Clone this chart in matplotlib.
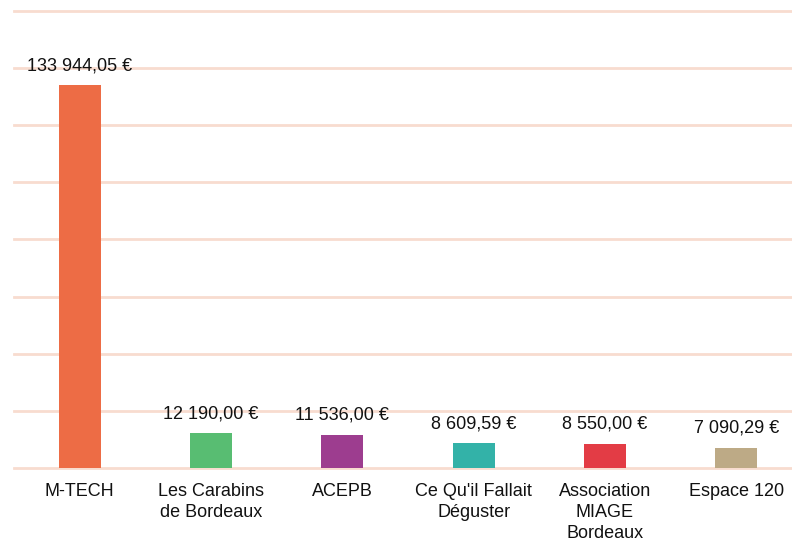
import matplotlib.pyplot as plt

plt.rcParams['font.family'] = ['Liberation Sans', 'DejaVu Sans']

categories = ["M-TECH", "Les Carabins\nde Bordeaux", "ACEPB", "Ce Qu'il Fallait\nDéguster",
              "Association\nMIAGE\nBordeaux", "Espace 120"]
amounts = [133944.05, 12190.00, 11536.00, 8609.59, 8550.00, 7090.29]
amount_labels = ["133 944,05 €", "12 190,00 €", "11 536,00 €", "8 609,59 €", "8 550,00 €", "7 090,29 €"]
colors = ["#ED6C45", "#58BD72", "#9D3D8F", "#33B2A8", "#E33C45", "#BDAA86"]

W, H = 792, 543
fig = plt.figure(figsize=(W / 100, H / 100), dpi=100)
ax = fig.add_axes([14 / W, 75 / H, 788 / W, 457 / H])

x = list(range(len(categories)))
ax.bar(x, amounts, width=0.32, color=colors, zorder=3)

for xi, val, lab in zip(x, amounts, amount_labels):
    ax.annotate(lab, (xi, val), xytext=(0, 8), textcoords="offset points",
                ha="center", va="bottom", fontsize=13, color="#111111")

ax.set_xlim(-0.5, 5.5)
ax.set_ylim(0, 160000)
ax.set_yticks(range(0, 160001, 20000))
ax.yaxis.grid(True, color="#F8DCCF", linewidth=2, zorder=0)
for gl in ax.get_ygridlines():
    gl.set_clip_on(False)
ax.set_yticklabels([])
ax.tick_params(axis="y", length=0)
ax.set_xticks(x)
ax.set_xticklabels(categories, fontsize=13, color="#111111", linespacing=1.3)
ax.tick_params(axis="x", length=0, pad=11)
for s in ax.spines.values():
    s.set_visible(False)

fig.savefig("out.png", dpi=100)
